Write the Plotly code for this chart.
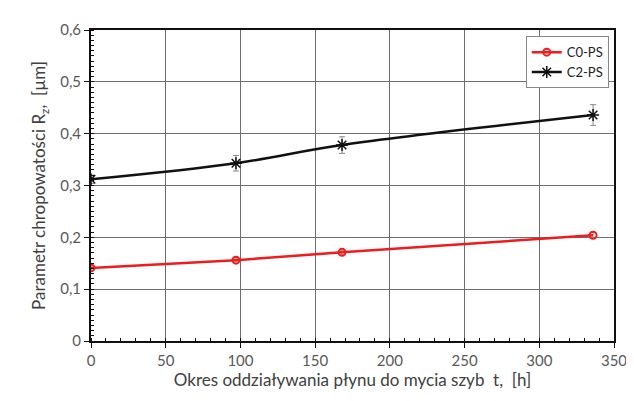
import plotly.graph_objects as go

hours = [0, 97, 168, 336]
c0_ps = [0.141, 0.156, 0.171, 0.204]
c0_err = [0.004, 0.004, 0.004, 0.005]
c2_ps = [0.312, 0.343, 0.378, 0.436]
c2_err = [0.008, 0.015, 0.016, 0.020]

x_ticks = [0, 50, 100, 150, 200, 250, 300, 350]
y_ticks = [0, 0.1, 0.2, 0.3, 0.4, 0.5, 0.6]

font_family = "Lato, Open Sans, sans-serif"

fig = go.Figure()
fig.add_trace(go.Scatter(
    x=hours, y=c0_ps, name="C0-PS", mode="lines+markers",
    line=dict(color="#ee1c1c", width=2.5),
    marker=dict(symbol="circle-open", size=7, color="#ee1c1c", line=dict(width=2)),
    error_y=dict(type="data", array=c0_err, color="#999999", thickness=1, width=3),
))
fig.add_trace(go.Scatter(
    x=hours, y=c2_ps, name="C2-PS", mode="lines+markers",
    line=dict(color="#111111", width=2.5, shape="spline"),
    marker=dict(symbol="asterisk-open", size=10, color="#111111", line=dict(width=1.5, color="#111111")),
    error_y=dict(type="data", array=c2_err, color="#888888", thickness=1, width=3),
))

fig.update_layout(
    width=634, height=401,
    margin=dict(l=83, r=28, t=12, b=68),
    paper_bgcolor="white", plot_bgcolor="white",
    separators=", ",
    font=dict(family=font_family, color="#595959", size=14),
    showlegend=True,
    legend=dict(
        x=0.99, y=0.98, xanchor="right", yanchor="top",
        bordercolor="#888888", borderwidth=1, bgcolor="white",
        font=dict(size=13, color="#222222"),
        itemwidth=30, tracegroupgap=0,
    ),
)
fig.update_xaxes(
    range=[0, 350], tickvals=x_ticks,
    showgrid=True, gridcolor="#6e6e6e", gridwidth=1,
    showline=True, linecolor="#111111", linewidth=2, mirror=True,
    ticks="outside", ticklen=5, tickcolor="#111111",
    minor=dict(dtick=10, ticks="inside", ticklen=3, tickcolor="#111111", showgrid=False),
    zeroline=False,
    title=dict(text="Okres oddziaływania płynu do mycia szyb  t,  [h]", font=dict(size=17, color="#404040"), standoff=4),
    tickfont=dict(size=15, color="#595959"),
)
fig.update_yaxes(
    range=[0, 0.6], tickvals=y_ticks,
    showgrid=True, gridcolor="#6e6e6e", gridwidth=1,
    showline=True, linecolor="#111111", linewidth=2, mirror=True,
    ticks="outside", ticklen=5, tickcolor="#111111",
    minor=dict(dtick=0.01, ticks="inside", ticklen=3, tickcolor="#111111", showgrid=False),
    zeroline=False,
    title=dict(text="Parametr chropowatości R<sub>z</sub>,  [µm]", font=dict(size=17, color="#404040"), standoff=10),
    tickfont=dict(size=15, color="#595959"),
)

fig.write_html("out.html")
